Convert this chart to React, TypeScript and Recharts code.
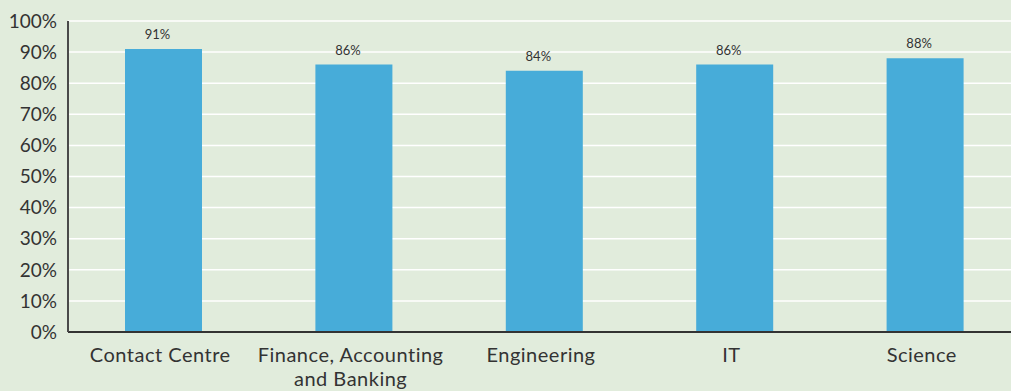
import { BarChart, Bar, XAxis, YAxis, CartesianGrid, LabelList } from "recharts";

const sectors = ["Contact Centre", "Finance, Accounting and Banking", "Engineering", "IT", "Science"];
const rates = [91, 86, 84, 86, 88];
const yTicks = [0, 10, 20, 30, 40, 50, 60, 70, 80, 90, 100];

const chartData = sectors.map((name, i) => ({ name, rate: rates[i] }));

const FONT = "Lato, 'Open Sans', sans-serif";
const TEXT = "#333333";

function wrapLabel(text: string, maxChars: number) {
  const words = text.split(" ");
  const lines: string[] = [];
  let cur = "";
  for (const w of words) {
    const next = cur ? cur + " " + w : w;
    if (next.length > maxChars && cur) {
      lines.push(cur);
      cur = w;
    } else {
      cur = next;
    }
  }
  if (cur) lines.push(cur);
  return lines;
}

const SectorTick = (props: any) => {
  const { x, y, payload } = props;
  const lines = wrapLabel(String(payload.value), 20);
  return (
    <text
      x={x}
      y={y}
      textAnchor="middle"
      fill={TEXT}
      fontSize={20}
      fontFamily={FONT}
      letterSpacing={0.5}
    >
      {lines.map((l, i) => (
        <tspan key={i} x={x - 3} dy={i === 0 ? 22 : 24}>
          {l}
        </tspan>
      ))}
    </text>
  );
};

// value label above each bar, sits a little left of the bar centre like the original
const RateLabel = (props: any) => {
  const { x, y, width, value } = props;
  return (
    <text
      x={x + width / 2 - 6}
      y={y - 10}
      textAnchor="middle"
      fill={TEXT}
      fontSize={13}
      fontFamily={FONT}
    >
      {`${value}%`}
    </text>
  );
};

export default function App() {
  return (
    <div
      style={{
        position: "fixed",
        left: 0,
        top: 0,
        width: 1011,
        height: 391,
        overflow: "hidden",
        background: "#e1ecdc",
      }}
    >
      <BarChart
        width={1020}
        height={391}
        data={chartData}
        margin={{ top: 21, right: 0, left: 0, bottom: 0 }}
      >
        <CartesianGrid vertical={false} stroke="#ffffff" strokeWidth={1.5} />
        <XAxis
          dataKey="name"
          height={59}
          tickLine={false}
          axisLine={{ stroke: "#333333", strokeWidth: 2 }}
          interval={0}
          tick={<SectorTick />}
        />
        <YAxis
          width={68}
          domain={[0, 100]}
          ticks={yTicks}
          tickFormatter={(v: number) => `${v}%`}
          tickLine={false}
          tickMargin={5}
          axisLine={{ stroke: "#4a4a4a", strokeWidth: 2 }}
          tick={{ fill: TEXT, fontSize: 19, fontFamily: FONT }}
          interval={0}
        />
        <Bar dataKey="rate" fill="#47acd9" barSize={77} isAnimationActive={false}>
          <LabelList dataKey="rate" content={<RateLabel />} />
        </Bar>
      </BarChart>
    </div>
  );
}
